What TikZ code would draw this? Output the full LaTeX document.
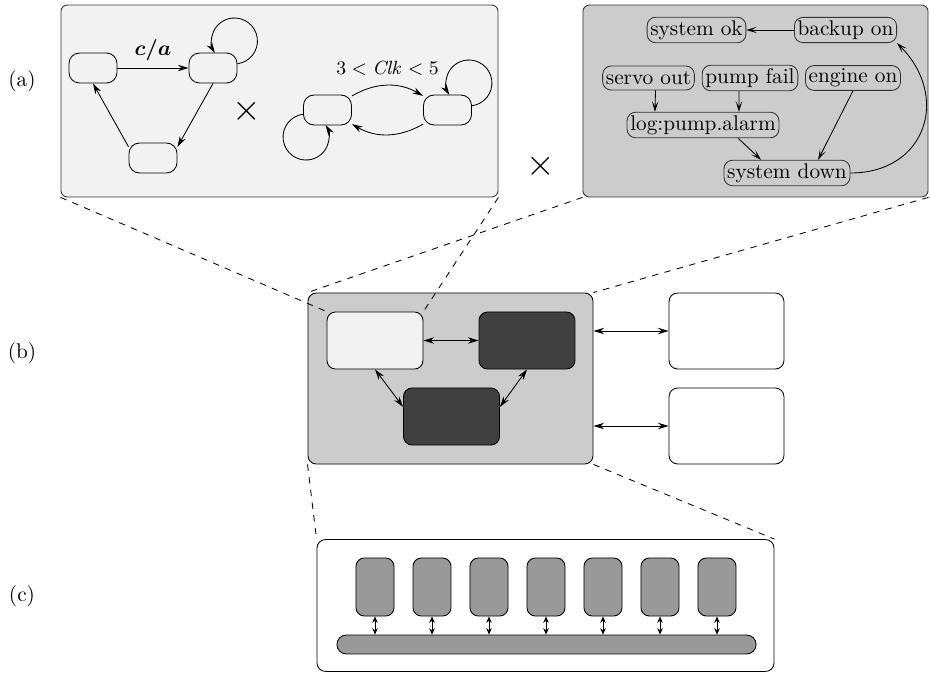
\documentclass[tikz,border=0pt]{standalone}
\usepackage{amsmath}
\usepackage{bm}
\usetikzlibrary{arrows.meta}
\definecolor{paleclr}{gray}{0.95}
\definecolor{midclr}{gray}{0.8}
\definecolor{darkclr}{gray}{0.25}
\definecolor{unitclr}{gray}{0.6}
\definecolor{lineclr}{gray}{0.2}
\tikzset{ %
  ,>={Stealth[length=5pt,width=3pt]}
  ,x=0.47pt,y=0.47pt
  ,panel/.style={draw=lineclr, rounded corners=3pt, minimum height=90.2pt}
  ,state/.style={draw, rounded corners=5pt, minimum width=22.6pt, minimum height=14.1pt}
  ,event/.style={draw=lineclr, rounded corners=4pt, inner sep=1.5pt, minimum height=11.3pt}
  ,block/.style={draw, rounded corners=4pt, minimum width=45.1pt, minimum height=26.8pt}
  ,outer/.style={draw, rounded corners=4pt, minimum width=54pt, minimum height=35.7pt, fill=white}
  ,unit/.style={draw, rounded corners=4pt, minimum width=17.9pt, minimum height=27.3pt, fill=unitclr}
  ,tag/.style={inner sep=0}
  ,selfloop/.style={->, radius=10.8pt}
  ,evarrow/.style={-{Stealth[length=5pt,width=3pt,inset=2.5pt]}}
  ,busarrow/.style={{Stealth[length=3pt,width=2.6pt]}-{Stealth[length=3pt,width=2.6pt]}}
}

\begin{document}
\begin{tikzpicture}
  \useasboundingbox (0,0) rectangle (930,-673);
  % (a) product of two charts, and the alarm chart
  \draw
  node[panel, fill=paleclr, minimum width=205.4pt] (left) at (279.5,-101) {}
  node[panel, fill=midclr, minimum width=162.2pt] (right) at (755.5,-101) {}
  node[tag] (la) at (22,-81) {(a)}
  node[state] (A) at (93,-68) {}
  node[state] (B) at (213,-68) {}
  node[state] (C) at (153,-158) {}
  node[state] (D) at (327.5,-110) {}
  node[state] (E) at (447.5,-110) {}
  node[tag, font=\LARGE] (x1) at (247,-111) {$\times$}
  node[tag, font=\LARGE] (x2) at (541,-166) {$\times$};
  \path [->] (A) edge node[above] {$\bm{c/a}$} (B)
    (B.south) edge ([yshift=-2pt]C.north east)
    ([yshift=-2pt]C.north west) edge (A.south)
    (D) edge[bend left=30] node[above=1pt, font=\small] {$3 < \mathit{Clk} < 5$} (E)
    (E) edge[bend left=30] (D);
  \draw [selfloop] ([yshift=2pt]B.east) arc[start angle=-82.5, end angle=211.4];
  \draw [selfloop] ([yshift=2pt]E.east) arc[start angle=-82.5, end angle=211.4];
  \draw [selfloop] ([yshift=-2pt]D.west) arc[start angle=97.5, end angle=391.4];

  \draw
  node[event] (ok) at (696.5,-30) {system ok}
  node[event] (backup) at (845.5,-30) {backup on}
  node[event] (servo) at (648.5,-78) {servo out}
  node[event] (pump) at (750,-78) {pump fail}
  node[event] (engine) at (853,-78) {engine on}
  node[event] (log) at (703,-125) {log:pump.alarm}
  node[event] (down) at (787,-173) {system down};
  \path [evarrow] (backup) edge (ok)
    ([xshift=3.3pt]servo.south) edge ([xshift=-22.6pt]log.north)
    ([xshift=-5.2pt]pump.south) edge ([xshift=16.9pt]log.north)
    ([xshift=16.5pt]log.south) edge ([xshift=-12.2pt]down.north)
    (engine.south) edge ([xshift=14.6pt]down.north)
    (down.east) edge[out=0, in=-45, looseness=1.4] (backup.south east);

  % (b) system and its environment
  \draw
  node[block, fill=midclr, minimum width=134pt, minimum height=80.4pt] (sys) at (450.5,-378.5) {}
  node[block, fill=paleclr] (ctrl) at (375,-340.5) {}
  node[block, fill=darkclr] (p1) at (527,-340.5) {}
  node[block, fill=darkclr] (p2) at (451.5,-416.5) {}
  node[outer] (env1) at (726.5,-331) {}
  node[outer] (env2) at (726.5,-426) {}
  node[tag] (lb) at (22,-353) {(b)};
  \path [<->] (ctrl) edge (p1)
    (ctrl.south) edge ([yshift=4.5pt]p2.west)
    (p1.south) edge ([yshift=4.5pt]p2.east)
    (sys.east |- env1) edge (env1)
    (sys.east |- env2) edge (env2);

  % (c) processors on a bus
  \draw
  node[outer, minimum width=214.8pt, minimum height=62pt] (board) at (545.5,-605.5) {}
  node[unit, minimum width=197pt, minimum height=8.9pt, rounded corners=4.4pt] (bus) at (546.5,-644.5) {}
  node[tag] (lc) at (22,-596) {(c)};
  \foreach \i in {0,...,6}
    \draw node[unit] (u\i) at (375+57*\i,-587) {};
  \foreach \i in {0,...,6}
    \draw [busarrow] (u\i) -- (u\i |- bus.north);

  \draw [dashed] (left.south west) -- (ctrl.north west)
    (left.south east) -- (ctrl.north east)
    (right.south west) -- (sys.north west)
    (right.south east) -- (sys.north east)
    (sys.south west) -- (board.north west)
    (sys.south east) -- (board.north east);
\end{tikzpicture}
\end{document}
